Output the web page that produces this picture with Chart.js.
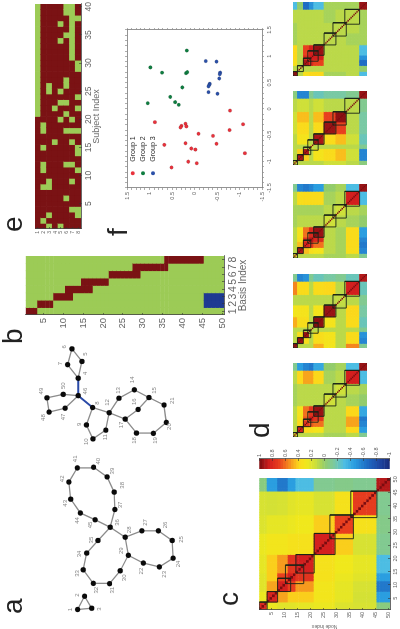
<!DOCTYPE html>
<html>
<head>
<meta charset="utf-8">
<script src="https://cdn.jsdelivr.net/npm/chart.js@4"></script>
<style>
  html, body { margin: 0; padding: 0; background: #fff; overflow: hidden; }
  /* the whole figure lies on its side in the reference */
  #page { position: absolute; left: 0; top: 0; width: 629px; height: 400px;
          transform-origin: 0 0; transform: translate(0, 629px) rotate(-90deg); filter: blur(0.35px); }
  #page canvas { position: absolute; }
  .letter { position: absolute; font: 28px/28px "Liberation Sans", sans-serif; color: #222; }
</style>
</head>
<body>
<div id="page">
  <div class="letter" style="left:15px;top:-1px">a</div>
  <div class="letter" style="left:285px;top:-1px">b</div>
  <div class="letter" style="left:23px;top:215px">c</div>
  <div class="letter" style="left:191px;top:246px">d</div>
  <div class="letter" style="left:397px;top:-1px">e</div>
  <div class="letter" style="left:393px;top:104px">f</div>
</div>
<script>
// panel a: node positions and label positions, nodes 1..50
const nodeX = [15,28.7,16.3,254,271.3,284.3,268,223.7,205.7,191.3,200.3,218.3,233.3,242,234,221.7,211.7,197.3,197,208.3,226.3,63,59,68,86.3,96.3,96.3,89.7,71,55,41.7,42,56,73.3,86.3,100,118.3,136.3,152,162,161.3,146.7,129,114.7,107.7,236,223,219,233.7,237.3];
const nodeY = [75.3,82.7,90.3,76,80,69.3,64.7,91.3,84.7,91.7,105.3,109,119.3,135.7,151.3,139.7,126,138,156,169.7,167.3,145.3,162.3,177,176,161.3,143.7,126,129.3,120.7,109.3,92,81.3,85,97,110,115,114.3,106.7,92.3,75,66,68,78.3,94,76,62,45,42.7,60];
const labelX = [15,30,15.3,259,279,286.3,269,228.3,206.3,188.3,193,229,241.3,252.3,241.3,229.7,205.7,189.7,189.7,204,230.7,54.7,51.3,62,87.3,102.3,105,97.3,75.7,47.7,35,35,52.3,72.3,86.7,105,123,143.3,158,168.3,170.7,150,124.7,107,102.3,240.7,214,213.3,240.7,246.3];
const labelY = [67.7,75.3,98.3,83.3,83.3,61.7,57.3,96.7,76.7,85,105.3,107.3,119,133.3,156.7,136,121.7,135.3,157.7,173.3,176.7,143.3,167.3,183,185.7,168.3,147.3,130.7,121.7,125,112.7,95.3,74.7,77.7,90,117.3,121.3,122.7,112.7,97.7,72.7,59,62,75.3,89.3,83.3,60.7,39.3,36.7,60];
const greyEdges = [[1,2],[2,3],[3,1],[4,5],[5,6],[6,7],[7,4],[46,47],[47,48],[48,49],[49,50],[50,46],[8,9],[9,10],[10,11],[11,12],[8,12],[12,13],[13,14],[14,15],[15,16],[16,17],[17,12],[15,21],[21,20],[20,19],[19,18],[18,17],[22,23],[23,24],[24,25],[25,26],[26,27],[27,28],[28,29],[29,22],[29,30],[30,31],[31,32],[32,33],[33,34],[34,35],[35,36],[36,28],[36,37],[37,38],[38,39],[39,40],[40,41],[41,42],[42,43],[43,44],[44,45],[45,36]];
const blueEdges = [[4,46],[46,8]];

// panel b: nodes covered by each basis
const basisStart = [1,4,8,11,15,22,28,36];
const basisEnd = [3,7,12,17,21,29,36,45];
const blueBasis = [2,3];
const blueNodes = [46,47,48,49,50];
const basisTicks = [1,2,3,4,5,6,7,8];
const nodeTicks = [5,10,15,20,25,30,35,40,45,50];

// panel e: subjects shown green for each basis row
const row1Subjects = [21,22,23,24,25,26,27,28,29,30,31,32,33,34,35,36,37,38,39,40];
const row2Subjects = [2,8,11,12,15,18,19];
const row3Subjects = [1,3,8,9,25,26];
const row4Subjects = [16,22];
const row5Subjects = [1,20,23,25,34,37];
const row6Subjects = [6,12,18,21,23,26,27,35,39,40];
const row7Subjects = [4,9,12,16,18,20,31,32,33,34,35,36,37,38,39,40];
const row8Subjects = [3,4,11,14,15,18,22,24,29,30,38];
const subjectTicks = [5,10,15,20,25,30,35,40];

// panel f
const group1X = [-0.25,-0.28,-0.33,-0.32,-0.35,-0.47,-0.68,-0.65,-0.75,-0.77,-1.0,-1.03,-1.11,-0.03,-0.29,-0.40,-0.51,-0.66,-0.84];
const group1Y = [0.88,0.20,0.18,0.29,0.31,-0.09,0.67,0.20,0.07,-0.02,0.14,-0.05,0.51,-0.79,-1.08,-0.78,-0.41,-0.49,-1.12];
const group2X = [1.11,0.79,0.69,0.68,0.70,0.41,0.23,0.13,0.08,0.11];
const group2Y = [0.17,0.98,0.72,0.19,0.16,0.27,0.54,0.43,0.35,1.04];
const group3X = [0.91,0.90,0.69,0.66,0.58,0.48,0.46,0.43,0.32,0.29];
const group3Y = [-0.25,-0.49,-0.57,-0.56,-0.55,-0.34,-0.33,-0.31,-0.31,-0.51];
const scatterLabels = [-1.5,-1,-0.5,0,0.5,1,1.5];
const groupNames = ["Group 1","Group 2","Group 3"];
const groupColors = ["#e8323c","#0f7d40","#2b50a8"];

// panels c and d: correlation read per block of nodes
const blockEnds = [3,7,11,14,21,29,36,45,50];
const cMatrix = [
  [.80,.26,.22,.22,.24,.26,.20,.18,-.05],
  [.26,.82,.50,.42,.42,.30,.24,.17,-.45],
  [.22,.50,.85,.70,.52,.30,.24,.18,-.60],
  [.22,.42,.70,.85,.75,.33,.26,.22,-.45],
  [.24,.42,.52,.75,.85,.33,.28,.24,-.30],
  [.26,.30,.30,.33,.33,.85,.42,.18,-.10],
  [.20,.24,.24,.26,.28,.42,.70,.33,-.08],
  [.18,.17,.18,.22,.24,.18,.33,.72,-.10],
  [-.05,-.45,-.60,-.45,-.30,-.10,-.08,-.10,.90]];
const d1Matrix = [
  [.95,.10,.35,.40,.40,.05,.05,.10,-.30],
  [.10,.10,.10,.10,.10,.10,.10,.10,.00],
  [.35,.10,.92,.80,.70,.10,.10,.10,-.65],
  [.40,.10,.80,.85,.85,.10,.10,.10,-.50],
  [.40,.10,.70,.85,.95,.10,.10,.10,-.30],
  [.05,.10,.10,.10,.10,.10,.10,.05,.05],
  [.05,.10,.10,.10,.10,.10,.10,.10,.05],
  [.10,.10,.10,.10,.10,.05,.10,.10,.05],
  [-.30,.00,-.65,-.50,-.30,.05,.05,.05,.95]];
const d2Matrix = [
  [.15,.10,.10,.10,.10,.15,.15,.10,-.05],
  [.10,.92,.42,.10,.32,.38,.45,.15,-.55],
  [.10,.42,.92,.10,.32,.38,.45,.15,-.55],
  [.10,.10,.10,.15,.10,.10,.10,.10,-.10],
  [.10,.32,.32,.10,.92,.38,.45,.15,-.20],
  [.15,.38,.38,.10,.38,.95,.70,.10,-.15],
  [.15,.45,.45,.10,.45,.70,.97,.10,-.15],
  [.10,.15,.15,.10,.15,.10,.10,.10,-.10],
  [-.05,-.55,-.55,-.10,-.20,-.15,-.15,-.10,.95]];
const d3Matrix = [
  [.20,.10,.10,.10,.10,.05,.05,.10,-.10],
  [.10,.92,.45,.36,.32,.10,.05,.36,-.55],
  [.10,.45,.85,.75,.60,.10,.05,.38,-.60],
  [.10,.36,.75,.90,.80,.10,.05,.38,-.55],
  [.10,.32,.60,.80,.95,.10,.05,.38,-.45],
  [.05,.10,.10,.10,.10,.15,.10,.05,.00],
  [.05,.05,.05,.05,.05,.10,.15,.10,.05],
  [.10,.36,.38,.38,.38,.05,.10,.85,-.30],
  [-.10,-.55,-.60,-.55,-.45,.00,.05,-.30,.95]];
const d4Matrix = [
  [.95,.10,.10,.10,.48,.30,.10,.56,-.10],
  [.10,.95,.36,.10,.36,.32,.10,.38,-.55],
  [.10,.36,.95,.10,.36,.32,.10,.38,-.50],
  [.10,.10,.10,.10,.10,.10,.10,.10,-.10],
  [.48,.36,.36,.10,.97,.32,.10,.38,-.20],
  [.30,.32,.32,.10,.32,.95,.10,.40,-.15],
  [.10,.10,.10,.10,.10,.10,.12,.10,-.10],
  [.56,.38,.38,.10,.38,.40,.10,.85,-.20],
  [-.10,-.55,-.50,-.10,-.20,-.15,-.10,-.20,.90]];
const d5Matrix = [
  [.20,.10,.10,.10,.10,.05,.05,.10,-.10],
  [.10,.85,.40,.36,.32,.10,.10,.40,-.45],
  [.10,.40,.75,.65,.60,.10,.10,.50,-.55],
  [.10,.36,.65,.85,.75,.10,.10,.50,-.60],
  [.10,.32,.60,.75,.95,.10,.10,.40,-.40],
  [.05,.10,.10,.10,.10,.15,.10,.05,.00],
  [.05,.10,.10,.10,.10,.10,.15,.10,.05],
  [.10,.40,.50,.50,.40,.05,.10,.85,-.30],
  [-.10,-.45,-.55,-.60,-.40,.00,.05,-.30,.95]];
const colorbarTicks = [-1,-0.8,-0.6,-0.4,-0.2,0,0.2,0.4,0.6,0.8,1];

// colour map of the colour bar
const stopValues = [-1,-0.85,-0.65,-0.45,-0.3,-0.15,0,0.15,0.28,0.4,0.55,0.7,0.85,1];
const stopColors = ["#1a2a78","#1f45a0","#1f6cc4","#2b9ee0","#4dbde3","#79c9a4","#93cc6b","#cfe03a","#f0e81c","#fbd81c","#f58a1f","#e8401f","#d3201f","#7a0c10"];

const GREEN = "#9ccb56";
const DARKRED = "#7a1214";
const NAVY = "#1e3a92";
const GREY = "#666";

Chart.defaults.animation = false;
Chart.defaults.responsive = false;
Chart.defaults.font.family = '"Liberation Sans", sans-serif';
Chart.defaults.plugins.legend.display = false;
Chart.defaults.plugins.tooltip.enabled = false;

function hexRgb(h) {
  return [1, 3, 5].map((i) => parseInt(h.substr(i, 2), 16));
}

function mapColor(v) {
  let i = 0;
  while (i < stopValues.length - 2 && v > stopValues[i + 1]) i++;
  const t = (v - stopValues[i]) / (stopValues[i + 1] - stopValues[i]);
  const a = hexRgb(stopColors[i]);
  const b = hexRgb(stopColors[i + 1]);
  return "rgb(" + a.map((c, k) => Math.round(c + (b[k] - c) * t)).join(",") + ")";
}

function blockOf(node) {
  return blockEnds.findIndex((e) => node <= e);
}

function addCanvas(left, top, w, h) {
  const c = document.createElement("canvas");
  c.width = w;
  c.height = h;
  c.style.left = left + "px";
  c.style.top = top + "px";
  document.getElementById("page").appendChild(c);
  return c;
}

// plot box is given; the canvas grows by the margins around it
function placed(box, m) {
  return addCanvas(box.left - m.l, box.top - m.t, box.w + m.l + m.r, box.h + m.t + m.b);
}

function axis(o) {
  return {
    type: "linear",
    display: o.display !== false,
    position: o.position,
    min: o.min,
    max: o.max,
    reverse: !!o.reverse,
    offset: false,
    afterBuildTicks: (s) => { s.ticks = (o.ticks || []).map((v) => ({ value: v })); },
    afterFit: (s) => {
      if (o.position === "left" || o.position === "right") s.width = o.size;
      else s.height = o.size;
    },
    grid: { offset: false, drawOnChartArea: false, z: 1, tickLength: o.tickLength === undefined ? -2 : o.tickLength, color: o.tickColor || "#333", lineWidth: 0.6 },
    border: { display: true, color: o.borderColor || "#444", width: 0.8, z: 2 },
    title: o.title ? { display: true, text: o.title, color: GREY, padding: 0, font: { size: o.titleSize } } : { display: false },
    ticks: {
      display: o.labels !== false,
      autoSkip: false,
      maxRotation: 0,
      minRotation: 0,
      padding: o.padding === undefined ? 4 : o.padding,
      color: GREY,
      font: { size: o.fontSize || 6 },
      callback: o.callback || ((v) => String(v)),
    },
  };
}

function cellData(rows, cols, colorAt) {
  const data = [];
  const colors = [];
  for (let r = 1; r <= rows; r++) {
    for (let c = 1; c <= cols; c++) {
      data.push({ x: c, y: [r - 0.5, r + 0.5] });
      colors.push(colorAt(r, c));
    }
  }
  return { data, colors };
}

function boxDatasets() {
  return basisStart.map((s, i) => {
    const a = s - 0.5;
    const b = basisEnd[i] + 0.5;
    return {
      type: "line",
      order: 0,
      data: [{ x: a, y: a }, { x: b, y: a }, { x: b, y: b }, { x: a, y: b }, { x: a, y: a }],
      borderColor: "#1a2418",
      borderWidth: 0.9,
      pointRadius: 0,
      fill: false,
    };
  });
}

function heatChart(canvas, cells, xAxis, yAxis, pad, extra) {
  return new Chart(canvas, {
    type: "bar",
    data: {
      datasets: [{
        order: 1,
        data: cells.data,
        backgroundColor: cells.colors,
        borderWidth: 0,
        grouped: false,
        barPercentage: 1,
        categoryPercentage: 1,
      }].concat(extra || []),
    },
    options: {
      layout: { padding: pad },
      scales: { x: xAxis, y: yAxis },
    },
  });
}

function matrixCells(m) {
  return cellData(50, 50, (r, c) => mapColor(r === c ? 1 : m[blockOf(r)][blockOf(c)]));
}

// panel a
const edgePoints = (edges) => edges.flatMap(([a, b]) => [
  { x: nodeX[a - 1], y: nodeY[a - 1] },
  { x: nodeX[b - 1], y: nodeY[b - 1] },
  { x: NaN, y: NaN },
]);
const nodeLabelPlugin = {
  id: "nodeLabels",
  afterDatasetsDraw(chart) {
    const { ctx, scales } = chart;
    ctx.save();
    ctx.fillStyle = "#8a8a8a";
    ctx.font = '6px "Liberation Sans", sans-serif';
    ctx.textAlign = "center";
    ctx.textBaseline = "middle";
    labelX.forEach((x, i) => {
      ctx.fillText(String(i + 1), scales.x.getPixelForValue(x), scales.y.getPixelForValue(labelY[i]));
    });
    ctx.restore();
  },
};
new Chart(addCanvas(0, 30, 310, 165), {
  type: "scatter",
  data: {
    datasets: [
      { data: nodeX.map((x, i) => ({ x, y: nodeY[i] })), backgroundColor: "#0a0a0a", pointRadius: 2.6, order: 0 },
      { data: edgePoints(greyEdges), showLine: true, borderColor: "#8c8c8c", borderWidth: 1.3, pointRadius: 0, order: 1 },
      { data: edgePoints(blueEdges), showLine: true, borderColor: "#2a4aa8", borderWidth: 1.9, pointRadius: 0, order: 1 },
    ],
  },
  options: {
    scales: {
      x: { display: false, min: 0, max: 310 },
      y: { display: false, min: 30, max: 195, reverse: true },
    },
  },
  plugins: [nodeLabelPlugin],
});

// panel b
const bBox = { left: 314, top: 25, w: 59, h: 199 };
const bMargin = { l: 26, r: 10, t: 10, b: 25 };
heatChart(
  placed(bBox, bMargin),
  cellData(50, 8, (r, c) => {
    if (r >= basisStart[c - 1] && r <= basisEnd[c - 1]) return DARKRED;
    if (blueBasis.includes(c) && blueNodes.includes(r)) return NAVY;
    return GREEN;
  }),
  axis({ position: "bottom", min: 0.5, max: 8.5, ticks: basisTicks, size: bMargin.b, fontSize: 10.5, padding: 5, title: "Basis Index", titleSize: 10 }),
  axis({ position: "left", min: 0.5, max: 50.5, reverse: true, ticks: nodeTicks, size: bMargin.l, fontSize: 9.5, padding: 5 }),
  { top: bMargin.t, right: bMargin.r }
);

// panel e
const rowSubjects = [row1Subjects, row2Subjects, row3Subjects, row4Subjects, row5Subjects, row6Subjects, row7Subjects, row8Subjects];
const eBox = { left: 400, top: 35, w: 225, h: 46 };
const eMargin = { l: 12, r: 10, t: 10, b: 21 };
heatChart(
  placed(eBox, eMargin),
  cellData(8, 40, (r, c) => (rowSubjects[r - 1].includes(c) ? GREEN : DARKRED)),
  axis({ position: "bottom", min: 0.5, max: 40.5, ticks: subjectTicks, size: eMargin.b, fontSize: 8.5, padding: 5, title: "Subject Index", titleSize: 9 }),
  axis({ position: "left", min: 0.5, max: 8.5, reverse: true, ticks: basisTicks, size: eMargin.l, fontSize: 5, padding: 4 }),
  { top: eMargin.t, right: eMargin.r }
);

// panel f
const fBox = { left: 441, top: 127, w: 158, h: 135 };
const fMargin = { l: 16, r: 26, t: 6, b: 14 };
const minorTicks = [-1.5,-1.4,-1.3,-1.2,-1.1,-1,-0.9,-0.8,-0.7,-0.6,-0.5,-0.4,-0.3,-0.2,-0.1,0,0.1,0.2,0.3,0.4,0.5,0.6,0.7,0.8,0.9,1,1.1,1.2,1.3,1.4,1.5];
const majorLabel = (v) => (scatterLabels.includes(v) ? String(v) : "");
const groupLegendPlugin = {
  id: "groupLegend",
  afterDatasetsDraw(chart) {
    const { ctx, scales } = chart;
    ctx.save();
    ctx.font = '7px "Liberation Sans", sans-serif';
    ctx.textBaseline = "middle";
    groupNames.forEach((name, i) => {
      const y = scales.y.getPixelForValue(1.37 - i * 0.225);
      ctx.fillStyle = groupColors[i];
      ctx.beginPath();
      ctx.arc(scales.x.getPixelForValue(-1.22), y, 2, 0, Math.PI * 2);
      ctx.fill();
      ctx.fillStyle = "#222";
      ctx.fillText(name, scales.x.getPixelForValue(-1.0), y);
    });
    ctx.restore();
  },
};
const frameAxis = (o) => axis(Object.assign({ min: -1.5, max: 1.5, ticks: minorTicks, tickLength: 2, tickColor: "#777", borderColor: "#777", fontSize: 5.5, padding: 2, callback: majorLabel }, o));
new Chart(placed(fBox, fMargin), {
  type: "scatter",
  data: {
    datasets: [
      { data: group1X.map((x, i) => ({ x, y: group1Y[i] })), backgroundColor: groupColors[0], pointRadius: 1.8 },
      { data: group2X.map((x, i) => ({ x, y: group2Y[i] })), backgroundColor: groupColors[1], pointRadius: 1.8 },
      { data: group3X.map((x, i) => ({ x, y: group3Y[i] })), backgroundColor: groupColors[2], pointRadius: 1.8 },
    ],
  },
  options: {
    scales: {
      x: frameAxis({ position: "bottom", size: fMargin.b }),
      y: frameAxis({ position: "left", size: fMargin.l }),
      x2: frameAxis({ position: "top", size: fMargin.t, labels: false }),
      y2: frameAxis({ position: "right", size: fMargin.r, labels: false }),
    },
  },
  plugins: [groupLegendPlugin],
});

// panel c
const cBox = { left: 19, top: 258, w: 132, h: 132 };
const cMargin = { l: 19, r: 6, t: 6, b: 10 };
heatChart(
  placed(cBox, cMargin),
  matrixCells(cMatrix),
  axis({ position: "bottom", min: 0.5, max: 50.5, ticks: nodeTicks, size: cMargin.b, fontSize: 5.5, padding: 4 }),
  axis({ position: "left", min: 0.5, max: 50.5, reverse: true, ticks: nodeTicks, size: cMargin.l, fontSize: 5.5, padding: 4, title: "Node Index", titleSize: 5 }),
  { top: cMargin.t, right: cMargin.r },
  boxDatasets()
);

// colour bar
const barLevels = [];
for (let v = -1; v < 1; v += 0.04) barLevels.push(v);
const barBox = { left: 160, top: 258, w: 10, h: 133 };
const barMargin = { l: 2, r: 18, t: 6, b: 6 };
new Chart(placed(barBox, barMargin), {
  type: "bar",
  data: {
    datasets: [{
      data: barLevels.map((v) => ({ x: 1, y: [v, v + 0.04] })),
      backgroundColor: barLevels.map((v) => mapColor(v + 0.02)),
      borderWidth: 0,
      grouped: false,
      barPercentage: 1,
      categoryPercentage: 1,
    }],
  },
  options: {
    layout: { padding: { top: barMargin.t, left: barMargin.l, bottom: barMargin.b } },
    scales: {
      x: { type: "linear", display: false, min: 0.5, max: 1.5, offset: false, grid: { offset: false } },
      y: axis({ position: "right", min: -1, max: 1, ticks: colorbarTicks, size: barMargin.r, fontSize: 5.5, padding: 4 }),
    },
  },
});

// panels d
const dPanels = [
  { left: 192, m: d5Matrix },
  { left: 281, m: d4Matrix },
  { left: 371, m: d3Matrix },
  { left: 464, m: d2Matrix },
  { left: 553, m: d1Matrix },
];
dPanels.forEach((p) => {
  heatChart(
    addCanvas(p.left, 293, 74, 74),
    matrixCells(p.m),
    { type: "linear", display: false, min: 0.5, max: 50.5, offset: false, grid: { offset: false } },
    { type: "linear", display: false, min: 0.5, max: 50.5, reverse: true },
    0,
    boxDatasets()
  );
});
</script>
</body>
</html>
